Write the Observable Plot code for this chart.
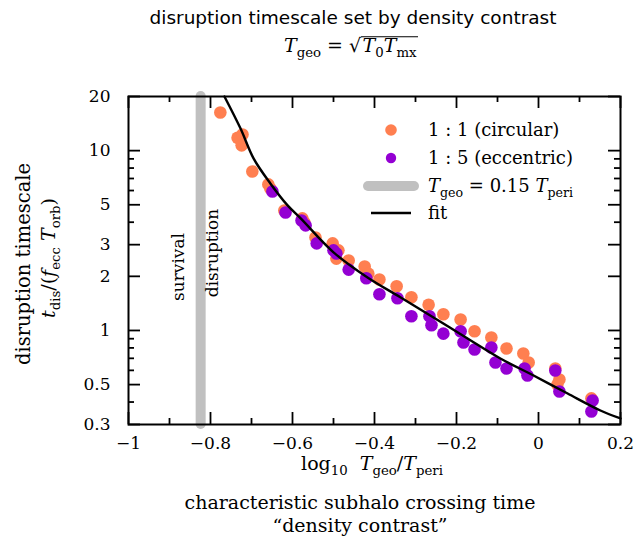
<!DOCTYPE html>
<html><head><meta charset="utf-8">
<script src="https://cdn.jsdelivr.net/npm/d3@7"></script>
<script src="https://cdn.jsdelivr.net/npm/@observablehq/plot@0.6"></script>
<style>body{margin:0;background:#fff}</style>
</head><body><div id="chart"></div>
<script>
// ---- data ----
const circularX = [-0.776,-0.734,-0.722,-0.724,-0.698,-0.659,-0.654,-0.620,-0.576,-0.571,-0.544,-0.502,-0.493,-0.488,-0.463,-0.424,-0.415,-0.388,-0.346,-0.310,-0.268,-0.232,-0.190,-0.156,-0.115,-0.078,-0.037,-0.024,0.041,0.051,0.046,0.129];
const circularY = [16.3,11.8,12.3,10.7,7.66,6.49,6.16,4.65,4.20,3.99,3.29,3.05,2.51,2.79,2.45,2.27,2.07,1.92,1.76,1.53,1.39,1.23,1.15,0.99,0.914,0.794,0.745,0.664,0.615,0.534,0.50,0.419];
const eccentricX = [-0.649,-0.617,-0.578,-0.568,-0.541,-0.500,-0.493,-0.463,-0.420,-0.388,-0.344,-0.310,-0.266,-0.261,-0.232,-0.190,-0.183,-0.156,-0.115,-0.105,-0.078,-0.034,-0.027,0.041,0.051,0.132,0.129];
const eccentricY = [5.93,4.53,4.09,3.84,3.05,2.79,2.68,2.18,1.95,1.59,1.51,1.20,1.20,1.07,0.96,0.99,0.858,0.784,0.804,0.664,0.615,0.615,0.562,0.599,0.458,0.408,0.354];
const fitX = [-0.766,-0.727,-0.695,-0.654,-0.612,-0.580,-0.500,-0.417,-0.337,-0.256,-0.173,-0.093,-0.012,0.071,0.151,0.200];
const fitY = [20.0,13.3,9.05,6.57,4.96,4.20,2.72,1.97,1.53,1.18,0.903,0.699,0.562,0.446,0.359,0.324];
const boundaryX = [-0.824];
const xMajorTicks = [-1,-0.8,-0.6,-0.4,-0.2,0,0.2];
const xMajorLabels = ["−1","−0.8","−0.6","−0.4","−0.2","0","0.2"];
const xMinorTicks = [-0.9,-0.7,-0.5,-0.3,-0.1,0.1];
const yMajorTicks = [0.3,0.5,1,2,3,5,10,20];
const yMajorLabels = ["0.3","0.5","1","2","3","5","10","20"];
const yMinorTicks = [0.4,0.6,0.7,0.8,0.9,4,6,7,8,9];
const seriesNames = ["1 : 1 (circular)","1 : 5 (eccentric)"];
const seriesColors = ["#ff7f50","#9400d3"];

const circular = circularX.map((x,i)=>({x, y: circularY[i]}));
const eccentric = eccentricX.map((x,i)=>({x, y: eccentricY[i]}));
const fit = fitX.map((x,i)=>({x, y: fitY[i]}));
const xLab = new Map(xMajorTicks.map((t,i)=>[t, xMajorLabels[i]]));
const yLab = new Map(yMajorTicks.map((t,i)=>[t, yMajorLabels[i]]));

const serif = "'DejaVu Serif', serif";
const sans = "'DejaVu Sans', sans-serif";

const W = 635, H = 538, mL = 128, mR = 15, mT = 96, mB = 114;
const innerW = W - mL - mR, innerH = H - mT - mB;
const longT = 12, shortT = 6;
const tk = {stroke: "black", strokeWidth: 1.8};

const plot = Plot.plot({
  width: W, height: H,
  marginLeft: mL, marginRight: mR, marginTop: mT, marginBottom: mB,
  style: {fontFamily: serif, fontSize: "17px", background: "white", overflow: "visible", color: "black"},
  x: {domain: [-1, 0.2]},
  y: {type: "log", domain: [0.3, 20]},
  marks: [
    Plot.ruleX(boundaryX, {y1: 0.3, y2: 20, stroke: "#c0c0c0", strokeWidth: 10, strokeLinecap: "round"}),
    Plot.dot(circular, {x: "x", y: "y", r: 6.3, fill: seriesColors[0]}),
    Plot.dot(eccentric, {x: "x", y: "y", r: 6.3, fill: seriesColors[1]}),
    Plot.line(fit, {x: "x", y: "y", curve: "catmull-rom", stroke: "black", strokeWidth: 2.4}),
    // inward ticks on all four sides
    Plot.tickX(xMajorTicks, {...tk, insetTop: innerH - longT}),
    Plot.tickX(xMinorTicks, {...tk, insetTop: innerH - shortT}),
    Plot.tickX(xMajorTicks, {...tk, insetBottom: innerH - longT}),
    Plot.tickX(xMinorTicks, {...tk, insetBottom: innerH - shortT}),
    Plot.tickY(yMajorTicks, {...tk, insetRight: innerW - longT}),
    Plot.tickY(yMinorTicks, {...tk, insetRight: innerW - shortT}),
    Plot.tickY(yMajorTicks, {...tk, insetLeft: innerW - longT}),
    Plot.tickY(yMinorTicks, {...tk, insetLeft: innerW - shortT}),
    Plot.frame({stroke: "black", strokeWidth: 2}),
    Plot.axisX(xMajorTicks, {anchor: "bottom", tickSize: 0, tickPadding: 12, tickFormat: d => xLab.get(d), label: null}),
    Plot.axisY(yMajorTicks, {anchor: "left", tickSize: 0, tickPadding: 18, tickFormat: d => yLab.get(d), label: null})
  ]
});
document.getElementById("chart").appendChild(plot);

const svg = d3.select(plot);
const deco = svg.append("g").attr("font-family", serif).attr("fill", "black").attr("text-anchor", "start");

// math text helper: parts = [{t, i (italic), sub}]
function mathText(parent, parts, size) {
  const t = parent.append("text").attr("font-size", size).attr("text-anchor", "start").style("white-space", "pre");
  let shift = 0;
  const subShift = size * 0.25;
  for (const p of parts) {
    const ts = t.append("tspan").text(p.t);
    if (p.i) ts.attr("font-style", "italic");
    const target = p.sub ? subShift : 0;
    if (target !== shift) { ts.attr("dy", target - shift); shift = target; }
    if (p.sub) ts.attr("font-size", size * 0.7);
  }
  return t;
}

// Title
deco.append("text").attr("x", 353).attr("y", 24).attr("text-anchor", "middle")
  .attr("font-family", sans).attr("font-size", 18.5).text("disruption timescale set by density contrast");
{
  const g = deco.append("g");
  const a = mathText(g, [{t:"T", i:true},{t:"geo", sub:true},{t:" = √"}], 19);
  const w1 = a.node().getBBox().width;
  const b = mathText(g, [{t:"T", i:true},{t:"0", sub:true},{t:"T", i:true},{t:"mx", sub:true}], 19).attr("x", w1 + 0.5);
  const bb = b.node().getBBox();
  g.append("line").attr("x1", w1 - 1).attr("x2", bb.x + bb.width + 1)
    .attr("y1", -15.3).attr("y2", -15.3).attr("stroke", "black").attr("stroke-width", 1.1);
  const tw = g.node().getBBox().width;
  g.attr("transform", `translate(${351 - tw / 2},52)`);
}

// x labels
{
  const g = deco.append("g");
  const t = mathText(g, [{t:"log"},{t:"10", sub:true},{t:"  "},{t:"T", i:true},{t:"geo", sub:true},{t:"/"},{t:"T", i:true},{t:"peri", sub:true}], 19);
  const w = t.node().getBBox().width;
  g.attr("transform", `translate(${372 - w / 2},470)`);
}
deco.append("text").attr("x", 360).attr("y", 509).attr("text-anchor", "middle").attr("font-size", 19)
  .text("characteristic subhalo crossing time");
deco.append("text").attr("x", 360).attr("y", 532).attr("text-anchor", "middle").attr("font-size", 19)
  .text("“density contrast”");

// y labels
deco.append("text").attr("transform", "translate(30,264) rotate(-90)").attr("text-anchor", "middle")
  .attr("font-size", 19.5).text("disruption timescale");
{
  const g = deco.append("g");
  const t = mathText(g, [{t:"t", i:true},{t:"dis", sub:true},{t:"/("},{t:"f", i:true},{t:"ecc", sub:true},{t:" "},{t:"T", i:true},{t:"orb", sub:true},{t:")"}], 19);
  const w = t.node().getBBox().width;
  g.attr("transform", `translate(55,${258 + w / 2}) rotate(-90)`);
}

// region annotations
deco.append("text").attr("transform", "translate(184,267) rotate(-90)").attr("text-anchor", "middle")
  .attr("font-size", 17).text("survival");
deco.append("text").attr("transform", "translate(218,253) rotate(-90)").attr("text-anchor", "middle")
  .attr("font-size", 17).text("disruption");

// legend
{
  const g = deco.append("g");
  g.append("circle").attr("cx", 391).attr("cy", 130).attr("r", 5.8).attr("fill", seriesColors[0]);
  g.append("text").attr("x", 428).attr("y", 136).attr("font-size", 18).text(seriesNames[0]);
  g.append("circle").attr("cx", 391).attr("cy", 158).attr("r", 5.2).attr("fill", seriesColors[1]);
  g.append("text").attr("x", 428).attr("y", 164).attr("font-size", 18).text(seriesNames[1]);
  g.append("line").attr("x1", 368).attr("x2", 414).attr("y1", 186).attr("y2", 186)
    .attr("stroke", "#c0c0c0").attr("stroke-width", 10).attr("stroke-linecap", "round");
  mathText(g, [{t:"T", i:true},{t:"geo", sub:true},{t:" = 0.15 "},{t:"T", i:true},{t:"peri", sub:true}], 18)
    .attr("x", 428).attr("y", 192);
  g.append("line").attr("x1", 371).attr("x2", 411).attr("y1", 213).attr("y2", 213)
    .attr("stroke", "black").attr("stroke-width", 2.5);
  g.append("text").attr("x", 428).attr("y", 219).attr("font-size", 18).text("fit");
}
</script>
</body></html>
